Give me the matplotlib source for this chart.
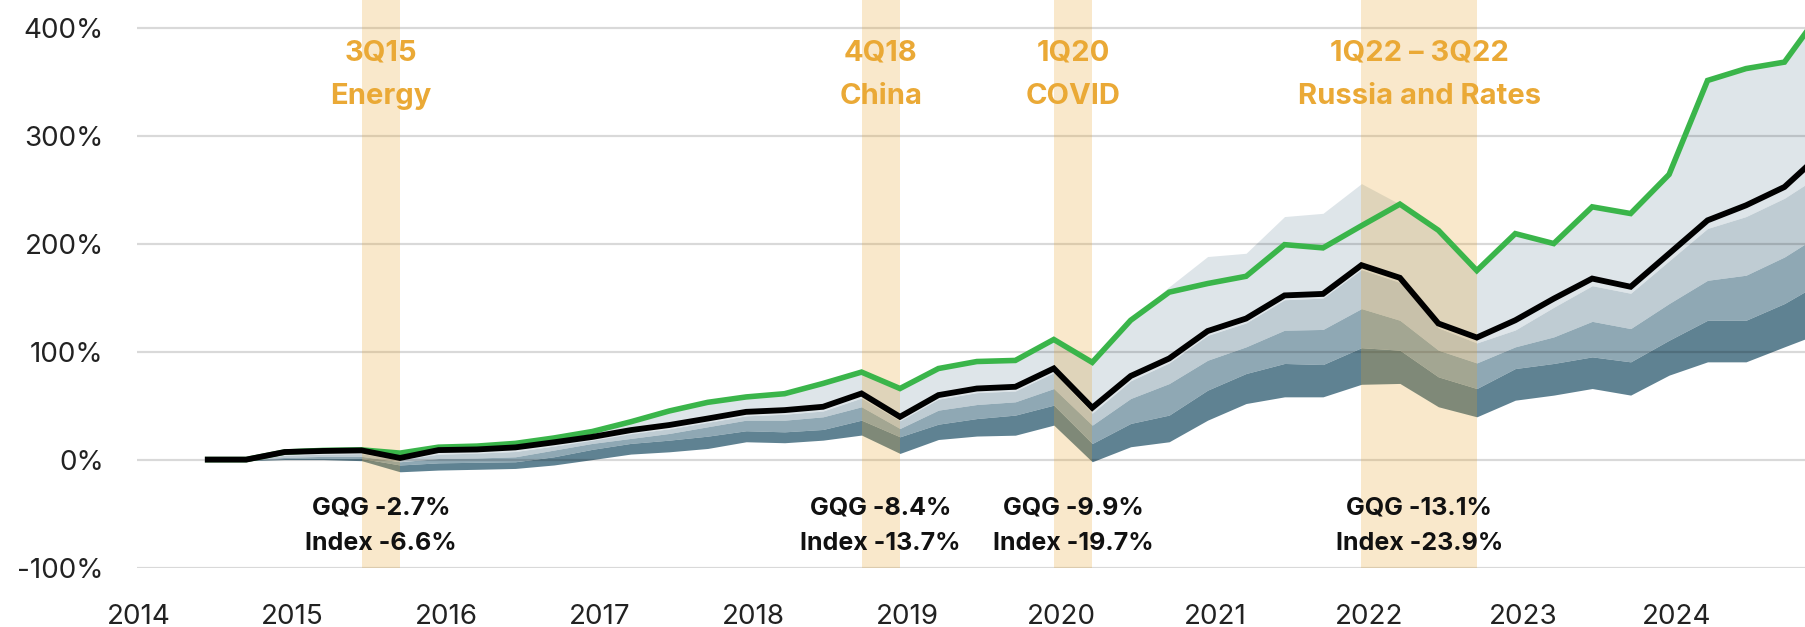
import matplotlib
matplotlib.use('Agg')
import matplotlib.pyplot as plt
import numpy as np
import pandas as pd

plt.rcParams['font.family'] = ['Inter', 'DejaVu Sans']

# quarterly cumulative returns (%), 2Q14 .. 4Q24
quarters = pd.period_range('2014Q2', '2024Q4', freq='Q')

gqg = [0, 0, 7, 8.5, 9, 6, 11.5, 12.5, 15, 20,
       26, 35, 45, 53, 58, 61, 70.5, 81, 65.8, 84.3,
       90.8, 91.8, 111.2, 90, 129, 155, 163, 169.7, 199, 196,
       216.5, 236.5, 212.3, 175, 209.2, 200, 234, 227.8, 264, 351,
       362, 368, 417]

index = [0, 0, 7, 8, 8.5, 1.5, 8.8, 9.4, 11.3, 16,
         21, 27.3, 32, 38, 44.2, 45.8, 48.9, 61.2, 39.6, 59.7,
         65.8, 67.4, 84.4, 48, 77.4, 93.6, 119, 130.6, 152, 153.4,
         180, 168.3, 126, 113, 129, 149, 167.6, 160, 190.7, 221.5,
         235.4, 252.4, 285]

# peer range bands (top to bottom)
peer_max = [0, 0, 7, 8.5, 9, 6, 11.5, 12.5, 15, 20,
            26, 35, 45, 53, 58, 61, 70.5, 81, 65.8, 84.3,
            90.8, 91.8, 111.2, 90, 129, 160, 188, 191, 225, 228,
            255.5, 236.5, 212.3, 175, 209.2, 200, 234, 227.8, 264, 351,
            362, 368, 417]

peer_q1 = [0, -0.2, 4, 5, 5.5, 0, 5, 6, 7.5, 12.5,
           18, 24, 28.5, 34.5, 40.5, 42, 45, 57, 36, 56,
           62, 63.5, 80.5, 43, 73, 89.5, 115, 126.5, 148, 149.5,
           176, 164, 122, 108, 120, 141, 161, 154, 184, 214,
           225, 242, 265]

peer_med = [0, -0.3, 2, 3, 3, -2, 1, 1.5, 2.6, 8.8,
            15, 19.6, 24.2, 30.4, 36.5, 36.5, 39.6, 48.9, 28.8, 45.8,
            51, 53.5, 65.8, 31.9, 56.6, 70.4, 92, 104.4, 119.8, 120.5,
            139.8, 129, 101.3, 89.5, 104.4, 113.6, 128, 121.3, 144.5, 166,
            170.7, 187.6, 210]

peer_q3 = [0, -0.5, 1, 1.5, 1, -5, -3, -2.5, -2, 2.6,
           9.5, 15, 18, 21.7, 26.7, 25.7, 27.9, 36.5, 21.1, 32.8,
           38, 41.2, 50.4, 14.9, 33.5, 41.2, 64.3, 79.7, 89, 88,
           103.6, 101.3, 76.6, 65.8, 84.3, 89, 95.1, 90.5, 110.5, 129,
           129, 144.5, 165]

peer_min = [0, -1, 0, 0, -1, -11.3, -9.7, -9, -8.2, -5,
            0, 5.1, 7.2, 10.3, 16.5, 15.6, 18, 22.7, 5.7, 18.6,
            21.8, 22.6, 31.9, -2, 11.9, 16.5, 36.5, 51.9, 58.1, 58.1,
            69.7, 70.5, 48.9, 39.6, 55, 59.7, 65.8, 59.7, 78.2, 90.5,
            90.5, 104.4, 118]

# drawdown periods
event_start = ['2015Q3', '2018Q4', '2020Q1', '2022Q1']
event_end = ['2015Q3', '2018Q4', '2020Q1', '2022Q3']
event_title = ['3Q15', '4Q18', '1Q20', '1Q22 – 3Q22']
event_name = ['Energy', 'China', 'COVID', 'Russia and Rates']
event_gqg = ['-2.7%', '-8.4%', '-9.9%', '-13.1%']
event_index = ['-6.6%', '-13.7%', '-19.7%', '-23.9%']

years = list(range(2014, 2025))
yticks = [-100, 0, 100, 200, 300, 400]

x = np.array([q.year + q.quarter / 4 for q in quarters])

fig = plt.figure(figsize=(18.06, 6.27), dpi=100)
ax = fig.add_axes([137 / 1806, 59.4 / 627, 1 - 137 / 1806, 1 - 59.4 / 627])

ax.fill_between(x, peer_q1, peer_max, color='#DEE5E9', lw=0, zorder=1)
ax.fill_between(x, peer_med, peer_q1, color='#BFCCD3', lw=0, zorder=1)
ax.fill_between(x, peer_q3, peer_med, color='#8FA8B4', lw=0, zorder=1)
ax.fill_between(x, peer_min, peer_q3, color='#5F8292', lw=0, zorder=1)

for y in yticks:
    ax.axhline(y, color='black', alpha=0.15, lw=1.6, zorder=1.5)

orange = '#EAA936'
for s, e, t, n, g, ix in zip(event_start, event_end, event_title, event_name,
                             event_gqg, event_index):
    ps, pe = pd.Period(s, 'Q'), pd.Period(e, 'Q')
    x0 = ps.year + (ps.quarter - 1) / 4
    x1 = pe.year + pe.quarter / 4
    xc = (x0 + x1) / 2
    ax.axvspan(x0, x1, color='#E6A228', alpha=0.24, lw=0, zorder=2)
    ax.text(xc, 376, t, ha='center', va='center', fontsize=21,
            fontweight='bold', color=orange)
    ax.text(xc, 336, n, ha='center', va='center', fontsize=21,
            fontweight='bold', color=orange)
    ax.text(xc, -45, 'GQG ' + g, ha='center', va='center', fontsize=18,
            fontweight='bold', color='#111111')
    ax.text(xc, -78, 'Index ' + ix, ha='center', va='center', fontsize=18,
            fontweight='bold', color='#111111')

ax.plot(x, gqg, color='#3AB54A', lw=4, zorder=3, solid_joinstyle='miter')
ax.plot(x, index, color='black', lw=4.2, zorder=3.5, solid_joinstyle='miter')

ax.set_xlim(2014.04, 2024.89)
ax.set_ylim(-100, 425.5)
ax.set_yticks(yticks)
ax.set_yticklabels([f'{v}%' for v in yticks])
ax.set_xticks([yr + 0.05 for yr in years])
ax.set_xticklabels([str(yr) for yr in years])
ax.tick_params(axis='both', length=0, labelsize=20, colors='#222222')
ax.tick_params(axis='y', pad=24)
ax.tick_params(axis='x', pad=26)
for sp in ax.spines.values():
    sp.set_visible(False)
ax.set_facecolor('none')

fig.savefig('out.png', dpi=100)
